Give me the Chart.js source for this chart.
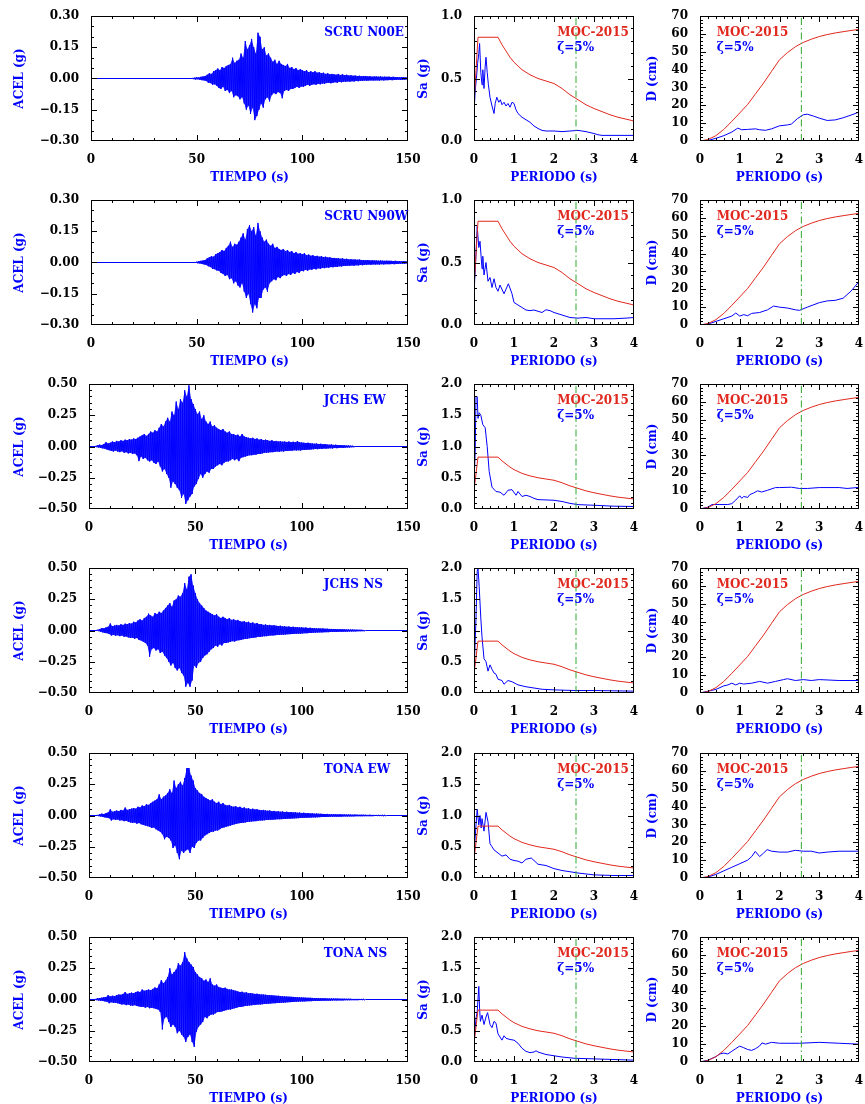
<!DOCTYPE html>
<html>
<head>
<meta charset="utf-8">
<script src="https://cdn.jsdelivr.net/npm/chart.js@4/dist/chart.umd.min.js"></script>
<style>
  body { margin: 0; background: #fff; }
  #wrap { position: relative; width: 865px; height: 1104px; background: #fff; }
  #wrap canvas { position: absolute; }
</style>
</head>
<body>
<div id="wrap"></div>
<script>
// Station / component names
const stations = ['SCRU N00E', 'SCRU N90W', 'JCHS EW', 'JCHS NS', 'TONA EW', 'TONA NS'];

// Accelerograms: start time (s), then positive and negative peaks for each second (g)
const acc1Start = 48;
const acc1Up = [0.003,0.004,0.006,0.005,0.008,0.010,0.012, 0.018,0.025,0.022,0.035,0.04, 0.048,0.04,0.055,0.05,0.06,
  0.065,0.07,0.1,0.075,0.085, 0.09,0.12,0.1,0.18,0.14, 0.16,0.19,0.15,0.12,0.22, 0.2,0.14,0.15,0.11,0.12,
  0.1,0.08,0.09,0.07,0.085, 0.07,0.065,0.06,0.07,0.05, 0.055,0.045,0.05,0.04,0.045, 0.04,0.035,0.04,0.03,0.035,
  0.03,0.035,0.028,0.03,0.025, 0.028,0.022,0.025,0.02,0.022, 0.02,0.018,0.022,0.017,0.02, 0.016,0.018,0.014,0.016,0.013,
  0.014,0.012,0.013,0.011,0.012, 0.012,0.01,0.011,0.009,0.01, 0.01,0.009,0.01,0.008,0.009, 0.008,0.009,0.007,0.008,0.007,
  0.007,0.006,0.007,0.006,0.006];
const acc1Dn = [0.003,0.005,0.004,0.006,0.008,0.009,0.012, 0.02,0.022,0.03,0.028,0.035, 0.045,0.05,0.04,0.06,0.055,
  0.07,0.06,0.09,0.08,0.085, 0.1,0.09,0.12,0.15,0.13, 0.17,0.14,0.2,0.18,0.15, 0.12,0.14,0.1,0.09,0.11,
  0.08,0.07,0.075,0.065,0.07, 0.095,0.06,0.055,0.06,0.05, 0.05,0.045,0.04,0.045,0.038, 0.04,0.035,0.03,0.035,0.03,
  0.028,0.03,0.025,0.028,0.024, 0.025,0.022,0.02,0.023,0.02, 0.018,0.02,0.016,0.018,0.015, 0.016,0.014,0.015,0.013,0.014,
  0.012,0.013,0.011,0.012,0.01, 0.011,0.01,0.009,0.01,0.009, 0.009,0.01,0.008,0.009,0.008, 0.008,0.007,0.008,0.007,0.007,
  0.006,0.007,0.006,0.006,0.005];

const acc2Start = 50;
const acc2Up = [0.004,0.006,0.008,0.01,0.012, 0.02,0.025,0.03,0.028,0.04, 0.045,0.05,0.06,0.055,0.07, 0.08,0.1,0.075,0.09,0.085,
  0.1,0.12,0.14,0.11,0.16, 0.18,0.15,0.17,0.13,0.19, 0.15,0.12,0.1,0.11,0.09, 0.08,0.09,0.07,0.075,0.065,
  0.06,0.065,0.055,0.06,0.05, 0.055,0.045,0.05,0.042,0.045, 0.04,0.045,0.035,0.038,0.032, 0.035,0.03,0.032,0.028,0.03,
  0.026,0.028,0.024,0.025,0.022, 0.022,0.02,0.021,0.018,0.02, 0.017,0.018,0.015,0.016,0.014, 0.015,0.013,0.014,0.012,0.012,
  0.011,0.012,0.01,0.011,0.01, 0.01,0.009,0.01,0.009,0.008, 0.009,0.008,0.008,0.007,0.008, 0.007,0.007,0.006,0.007,0.006];
const acc2Dn = [0.004,0.005,0.007,0.009,0.012, 0.018,0.022,0.03,0.032,0.038, 0.04,0.05,0.055,0.065,0.06, 0.08,0.075,0.1,0.09,0.11,
  0.12,0.1,0.14,0.17,0.15, 0.2,0.24,0.2,0.22,0.17, 0.17,0.13,0.12,0.14,0.1, 0.09,0.08,0.085,0.07,0.075,
  0.065,0.06,0.065,0.055,0.06, 0.05,0.055,0.045,0.05,0.04, 0.042,0.035,0.04,0.033,0.035, 0.03,0.033,0.028,0.03,0.026,
  0.027,0.024,0.025,0.022,0.023, 0.02,0.021,0.018,0.019,0.017, 0.017,0.015,0.016,0.014,0.015, 0.013,0.014,0.012,0.013,0.011,
  0.011,0.01,0.011,0.009,0.01, 0.009,0.01,0.008,0.009,0.008, 0.008,0.008,0.007,0.008,0.007, 0.007,0.006,0.006,0.006,0.005];

const acc3Start = 3;
const acc3Up = [0.005,0.01,0.015,0.012,0.02, 0.035,0.025,0.03,0.04,0.035, 0.045,0.04,0.05,0.045,0.055, 0.05,0.06,0.055,0.065,0.06,
  0.07,0.08,0.09,0.1,0.085, 0.1,0.12,0.11,0.13,0.12, 0.15,0.18,0.16,0.2,0.23, 0.2,0.28,0.25,0.36,0.3,
  0.38,0.35,0.45,0.4,0.49, 0.38,0.34,0.3,0.26,0.28, 0.22,0.25,0.2,0.18,0.2, 0.16,0.17,0.15,0.14,0.13,
  0.14,0.12,0.11,0.12,0.1, 0.1,0.09,0.095,0.08,0.1, 0.08,0.075,0.07,0.065,0.07, 0.06,0.065,0.055,0.06,0.05,
  0.055,0.05,0.045,0.05,0.042, 0.045,0.04,0.042,0.038,0.04, 0.036,0.04,0.035,0.038,0.034, 0.043,0.035,0.032,0.03,0.028,
  0.03,0.026,0.025,0.022,0.024, 0.02,0.022,0.018,0.02,0.016, 0.015,0.017,0.013,0.014,0.012, 0.012,0.01,0.011,0.008,0.009,
  0.007,0.006];
const acc3Dn = [0.005,0.008,0.012,0.015,0.018, 0.025,0.03,0.035,0.04,0.032, 0.04,0.045,0.038,0.05,0.045, 0.055,0.05,0.06,0.055,0.07,
  0.117,0.08,0.1,0.09,0.11, 0.12,0.11,0.13,0.14,0.12, 0.16,0.2,0.18,0.22,0.25, 0.33,0.28,0.3,0.33,0.35,
  0.41,0.38,0.46,0.43,0.4, 0.38,0.32,0.3,0.26,0.22, 0.25,0.22,0.2,0.21,0.18, 0.18,0.16,0.15,0.14,0.15,
  0.13,0.12,0.12,0.11,0.1, 0.11,0.1,0.117,0.09,0.085, 0.08,0.075,0.07,0.07,0.065, 0.065,0.06,0.06,0.055,0.05,
  0.05,0.048,0.045,0.045,0.042, 0.04,0.042,0.038,0.04,0.035, 0.035,0.033,0.034,0.03,0.032, 0.03,0.032,0.028,0.027,0.025,
  0.025,0.023,0.022,0.02,0.021, 0.018,0.02,0.016,0.017,0.015, 0.014,0.015,0.012,0.013,0.011, 0.01,0.011,0.009,0.008,0.008,
  0.006,0.005];

const acc4Start = 4;
const acc4Up = [0.006,0.012,0.02,0.018,0.025, 0.03,0.056,0.035,0.04,0.045, 0.04,0.05,0.045,0.055,0.05, 0.06,0.055,0.07,0.065,0.08,
  0.09,0.08,0.1,0.11,0.135, 0.12,0.11,0.14,0.13,0.15, 0.14,0.16,0.18,0.2,0.22, 0.19,0.24,0.25,0.28,0.27,
  0.3,0.38,0.33,0.43,0.45, 0.36,0.3,0.25,0.22,0.2, 0.18,0.16,0.15,0.14,0.13, 0.12,0.13,0.11,0.1,0.11,
  0.1,0.09,0.1,0.085,0.09, 0.08,0.085,0.075,0.07,0.075, 0.065,0.07,0.06,0.065,0.055, 0.06,0.05,0.052,0.045,0.048,
  0.042,0.045,0.04,0.042,0.038, 0.036,0.038,0.033,0.035,0.03, 0.032,0.028,0.03,0.026,0.028, 0.025,0.026,0.022,0.024,0.02,
  0.022,0.019,0.02,0.017,0.018, 0.016,0.017,0.014,0.015,0.013, 0.013,0.012,0.012,0.011,0.011, 0.01,0.01,0.009,0.009,0.008,
  0.008,0.007,0.007,0.006,0.006, 0.005];
const acc4Dn = [0.005,0.01,0.015,0.02,0.022, 0.028,0.04,0.035,0.042,0.038, 0.045,0.04,0.05,0.048,0.055, 0.06,0.058,0.065,0.06,0.075,
  0.08,0.09,0.1,0.12,0.21, 0.15,0.14,0.16,0.15,0.18, 0.17,0.2,0.22,0.25,0.28, 0.26,0.3,0.32,0.3,0.34,
  0.36,0.45,0.42,0.45,0.4, 0.28,0.3,0.26,0.25,0.22, 0.2,0.19,0.17,0.15,0.14, 0.12,0.13,0.11,0.12,0.1,
  0.1,0.095,0.09,0.085,0.088, 0.08,0.078,0.075,0.07,0.068, 0.065,0.062,0.06,0.058,0.055, 0.05,0.052,0.048,0.046,0.045,
  0.042,0.04,0.04,0.038,0.036, 0.035,0.034,0.033,0.032,0.03, 0.029,0.028,0.027,0.026,0.025, 0.025,0.023,0.022,0.022,0.02,
  0.019,0.018,0.017,0.016,0.015, 0.015,0.014,0.013,0.013,0.012, 0.012,0.011,0.011,0.01,0.01, 0.01,0.009,0.009,0.008,0.008,
  0.007,0.007,0.006,0.006,0.005, 0.005];

const acc5Start = 4;
const acc5Up = [0.005,0.01,0.015,0.012,0.02, 0.025,0.05,0.03,0.035,0.04, 0.035,0.045,0.04,0.064,0.045, 0.05,0.055,0.06,0.055,0.07,
  0.065,0.08,0.075,0.09,0.085, 0.1,0.11,0.12,0.13,0.17, 0.13,0.15,0.16,0.18,0.21, 0.18,0.28,0.22,0.25,0.27,
  0.24,0.3,0.38,0.38,0.32, 0.28,0.22,0.2,0.18,0.17, 0.15,0.14,0.13,0.12,0.13, 0.11,0.1,0.11,0.09,0.1,
  0.085,0.08,0.085,0.075,0.07, 0.075,0.065,0.07,0.06,0.065, 0.055,0.06,0.05,0.055,0.048, 0.05,0.045,0.042,0.045,0.04,
  0.038,0.04,0.035,0.037,0.032, 0.034,0.03,0.032,0.028,0.03, 0.026,0.028,0.025,0.026,0.022, 0.024,0.02,0.022,0.019,0.02,
  0.017,0.018,0.015,0.016,0.014, 0.014,0.013,0.012,0.013,0.011, 0.011,0.01,0.011,0.009,0.01, 0.009,0.009,0.008,0.008,0.008,
  0.007,0.008,0.007,0.006,0.007, 0.006,0.006,0.005,0.006,0.005, 0.005,0.005,0.004,0.005,0.004, 0.004];
const acc5Dn = [0.005,0.008,0.012,0.015,0.018, 0.022,0.04,0.03,0.035,0.032, 0.04,0.038,0.045,0.042,0.05, 0.055,0.06,0.055,0.065,0.06,
  0.07,0.075,0.08,0.085,0.09, 0.1,0.095,0.11,0.12,0.13, 0.15,0.19,0.17,0.18,0.2, 0.26,0.24,0.3,0.35,0.28,
  0.3,0.28,0.27,0.3,0.25, 0.26,0.22,0.2,0.2,0.18, 0.16,0.15,0.14,0.13,0.13, 0.12,0.12,0.11,0.1,0.095,
  0.09,0.085,0.08,0.075,0.07, 0.065,0.062,0.06,0.058,0.055, 0.052,0.05,0.048,0.046,0.045, 0.042,0.04,0.04,0.038,0.036,
  0.035,0.034,0.033,0.032,0.03, 0.03,0.029,0.028,0.027,0.025, 0.025,0.024,0.023,0.022,0.021, 0.02,0.019,0.018,0.018,0.017,
  0.016,0.015,0.015,0.014,0.013, 0.012,0.012,0.011,0.011,0.01, 0.01,0.01,0.009,0.009,0.009, 0.008,0.008,0.008,0.007,0.007,
  0.007,0.006,0.006,0.006,0.006, 0.005,0.005,0.005,0.005,0.005, 0.004,0.004,0.004,0.004,0.004, 0.003];

const acc6Start = 3;
const acc6Up = [0.005,0.01,0.012,0.015,0.018, 0.02,0.035,0.025,0.03,0.028, 0.035,0.04,0.038,0.045,0.06, 0.045,0.05,0.055,0.05,0.06,
  0.065,0.06,0.08,0.07,0.075, 0.08,0.075,0.085,0.097,0.09, 0.12,0.156,0.13,0.15,0.18, 0.25,0.2,0.22,0.24,0.29,
  0.27,0.3,0.38,0.33,0.3, 0.28,0.26,0.22,0.2,0.18, 0.17,0.15,0.16,0.14,0.17, 0.12,0.11,0.12,0.1,0.095,
  0.09,0.095,0.085,0.08,0.08, 0.075,0.07,0.065,0.06,0.062, 0.055,0.058,0.05,0.052,0.048, 0.045,0.046,0.042,0.04,0.04,
  0.038,0.036,0.035,0.034,0.032, 0.03,0.03,0.028,0.026,0.025, 0.024,0.023,0.022,0.021,0.02, 0.019,0.018,0.017,0.016,0.015,
  0.014,0.014,0.013,0.012,0.012, 0.011,0.011,0.01,0.01,0.009, 0.009,0.009,0.008,0.008,0.008, 0.007,0.007,0.007,0.006,0.006,
  0.006,0.005,0.005,0.005,0.005, 0.004,0.004];
const acc6Dn = [0.005,0.008,0.01,0.012,0.015, 0.018,0.03,0.022,0.028,0.025, 0.03,0.035,0.04,0.038,0.045, 0.04,0.048,0.05,0.045,0.052,
  0.055,0.06,0.058,0.065,0.06, 0.07,0.065,0.07,0.075,0.08, 0.1,0.24,0.15,0.14,0.18, 0.22,0.2,0.22,0.27,0.25,
  0.28,0.3,0.34,0.3,0.28, 0.34,0.38,0.26,0.22,0.2, 0.18,0.14,0.15,0.13,0.12, 0.12,0.11,0.1,0.1,0.095,
  0.09,0.085,0.08,0.08,0.075, 0.07,0.065,0.06,0.06,0.055, 0.052,0.05,0.048,0.046,0.044, 0.042,0.04,0.04,0.038,0.036,
  0.035,0.033,0.032,0.03,0.03, 0.028,0.027,0.026,0.025,0.024, 0.022,0.021,0.02,0.019,0.018, 0.017,0.016,0.016,0.015,0.014,
  0.013,0.013,0.012,0.012,0.011, 0.011,0.01,0.01,0.009,0.009, 0.009,0.008,0.008,0.008,0.007, 0.007,0.007,0.006,0.006,0.006,
  0.005,0.005,0.005,0.005,0.004, 0.004,0.004];

// Pseudo-acceleration spectra [period s, Sa g]
const sa1 = [[0,0.22],[0.03,0.4],[0.06,0.5],[0.09,0.62],[0.12,0.7],[0.14,0.78],[0.17,0.55],[0.2,0.45],[0.22,0.57],[0.25,0.42],
  [0.28,0.6],[0.3,0.67],[0.33,0.55],[0.36,0.45],[0.4,0.35],[0.45,0.28],[0.5,0.22],[0.53,0.3],[0.57,0.35],[0.62,0.31],
  [0.66,0.33],[0.7,0.29],[0.75,0.31],[0.8,0.28],[0.85,0.3],[0.9,0.27],[0.95,0.31],[1.0,0.3],[1.05,0.25],[1.1,0.22],
  [1.2,0.19],[1.3,0.17],[1.4,0.15],[1.5,0.12],[1.6,0.1],[1.7,0.085],[1.8,0.08],[2.0,0.08],[2.2,0.075],[2.4,0.08],
  [2.6,0.085],[2.8,0.075],[3.0,0.06],[3.1,0.05],[3.2,0.045],[3.5,0.045],[4.0,0.045]];
const sa2 = [[0,0.25],[0.04,0.5],[0.08,0.79],[0.12,0.62],[0.15,0.67],[0.2,0.45],[0.22,0.55],[0.25,0.4],[0.3,0.5],[0.35,0.35],
  [0.4,0.38],[0.45,0.3],[0.5,0.37],[0.55,0.3],[0.6,0.27],[0.65,0.32],[0.75,0.25],[0.86,0.33],[0.95,0.25],[1.0,0.18],
  [1.1,0.16],[1.2,0.14],[1.3,0.12],[1.4,0.115],[1.5,0.12],[1.6,0.11],[1.7,0.1],[1.8,0.122],[1.9,0.115],[2.0,0.1],
  [2.2,0.08],[2.4,0.06],[2.6,0.055],[2.8,0.06],[3.0,0.05],[3.5,0.05],[3.8,0.055],[4.0,0.06]];
const sa3 = [[0,0.45],[0.03,0.9],[0.05,1.8],[0.08,1.8],[0.1,1.45],[0.13,1.54],[0.17,1.5],[0.22,1.35],[0.28,1.3],[0.33,1.0],
  [0.38,0.6],[0.45,0.35],[0.55,0.28],[0.65,0.27],[0.75,0.22],[0.85,0.3],[0.95,0.31],[1.05,0.22],[1.1,0.28],[1.2,0.2],
  [1.3,0.22],[1.4,0.2],[1.5,0.17],[1.6,0.15],[2.0,0.14],[2.2,0.12],[2.4,0.09],[2.6,0.07],[3.0,0.06],[3.5,0.045],[4.0,0.04]];
const sa4 = [[0,0.3],[0.05,1.2],[0.08,1.95],[0.1,2.0],[0.13,1.7],[0.17,1.2],[0.2,0.9],[0.25,0.55],[0.3,0.5],[0.35,0.35],
  [0.4,0.45],[0.45,0.38],[0.5,0.32],[0.55,0.3],[0.6,0.22],[0.7,0.2],[0.75,0.14],[0.85,0.2],[0.95,0.18],[1.1,0.13],
  [1.3,0.1],[1.5,0.08],[1.7,0.06],[2.0,0.05],[2.5,0.04],[3.0,0.04],[4.0,0.03]];
const sa5 = [[0,0.36],[0.05,0.85],[0.08,1.1],[0.12,0.85],[0.15,1.0],[0.18,0.8],[0.2,0.95],[0.25,0.75],[0.3,1.05],[0.35,0.9],
  [0.4,0.55],[0.45,0.5],[0.5,0.45],[0.6,0.4],[0.7,0.35],[0.8,0.37],[0.9,0.3],[1.0,0.28],[1.1,0.27],[1.2,0.24],
  [1.3,0.3],[1.43,0.32],[1.5,0.28],[1.6,0.22],[1.8,0.2],[2.0,0.15],[2.2,0.12],[2.4,0.1],[2.6,0.08],[3.0,0.05],[3.5,0.04],[4.0,0.04]];
const sa6 = [[0,0.3],[0.05,0.7],[0.08,0.8],[0.12,1.21],[0.14,0.85],[0.16,0.65],[0.2,0.75],[0.25,0.6],[0.3,0.72],[0.34,0.79],
  [0.4,0.6],[0.45,0.55],[0.5,0.65],[0.55,0.62],[0.6,0.45],[0.65,0.4],[0.7,0.35],[0.75,0.42],[0.8,0.38],[0.9,0.36],
  [1.0,0.35],[1.1,0.3],[1.2,0.22],[1.3,0.17],[1.4,0.15],[1.5,0.16],[1.55,0.18],[1.6,0.16],[1.8,0.12],[2.0,0.1],
  [2.2,0.08],[2.5,0.06],[3.0,0.05],[3.5,0.04],[4.0,0.03]];

// Displacement spectra [period s, D cm]
const d1 = [[0,0],[0.2,0.3],[0.4,1.5],[0.6,3],[0.8,5],[0.95,7.2],[1.05,6.3],[1.2,6.5],[1.4,6.8],[1.5,6.3],[1.65,6],[1.8,6.8],
  [2.0,8.5],[2.2,9],[2.3,9.5],[2.45,12.5],[2.6,14.7],[2.7,15],[2.85,14],[3.0,12.8],[3.2,11.5],[3.4,11.8],[3.6,13],[3.8,14.5],[4.0,16.2]];
const d2 = [[0,0],[0.2,0.5],[0.4,2],[0.6,3.5],[0.8,5],[0.9,6.7],[1.0,5],[1.1,5.8],[1.2,5.2],[1.3,6.5],[1.5,7],[1.7,8.5],
  [1.85,10.6],[2.0,10],[2.2,9.5],[2.4,8.5],[2.5,8.2],[2.7,10],[3.0,12.5],[3.2,13.5],[3.4,13.8],[3.6,15],[3.8,19],[4.0,24.3]];
const d3 = [[0,0],[0.2,1],[0.3,2.5],[0.5,2.5],[0.7,2.5],[0.8,3],[0.9,5],[1.0,7.4],[1.05,6],[1.1,7],[1.2,6.5],[1.25,8],[1.35,9],
  [1.45,10.2],[1.55,9.5],[1.7,10.5],[1.9,12],[2.0,12],[2.3,12.2],[2.5,11.5],[2.7,11.5],[3.0,12],[3.5,12],[3.7,11.5],[4.0,12.1]];
const d4 = [[0,0],[0.2,1],[0.4,2],[0.6,4],[0.7,4.5],[0.8,5.5],[0.9,4.5],[1.0,5.5],[1.1,5],[1.3,5.5],[1.5,6.5],[1.7,5.5],
  [1.9,6.5],[2.1,7.5],[2.2,8],[2.4,7],[2.6,7.5],[2.8,7],[3.0,7.5],[3.5,7],[4.0,7]];
const d5 = [[0,0],[0.2,0.5],[0.4,2],[0.6,4],[0.8,6],[1.0,8],[1.2,10],[1.3,12],[1.39,14.9],[1.5,12],[1.6,14],[1.69,15.9],
  [1.8,15],[2.0,14.5],[2.2,14.5],[2.4,15.5],[2.6,15],[2.8,15],[3.0,14],[3.2,14.5],[3.5,15],[4.0,15]];
const d6 = [[0,0],[0.2,1],[0.4,3],[0.5,4.5],[0.6,5],[0.7,4.5],[0.8,6],[0.9,7.5],[1.0,8.9],[1.1,8],[1.2,7],[1.3,6.5],[1.4,7.5],
  [1.5,9],[1.56,10.7],[1.65,10],[1.8,11],[2.0,10.5],[2.5,10.5],[3.0,11],[3.5,10.5],[4.0,10]];

// MOC-2015 design spectrum
const mocSa = [[0,0.3],[0.1,0.83],[0.6,0.83],[0.7,0.77],[0.8,0.72],[0.9,0.67],[1.0,0.63],[1.2,0.57],[1.4,0.53],[1.6,0.5],
  [1.8,0.48],[2.0,0.46],[2.2,0.42],[2.4,0.37],[2.6,0.33],[2.8,0.29],[3.0,0.26],[3.2,0.235],[3.4,0.21],[3.6,0.19],[3.8,0.175],[4.0,0.16]];
const mocD = [[0,0],[0.2,0.8],[0.4,3],[0.6,6.5],[0.8,11],[1.0,15.7],[1.2,20.5],[1.4,26.5],[1.6,32.5],[1.8,39],[2.0,45.5],
  [2.2,49.5],[2.4,52.8],[2.6,55.2],[2.8,57],[3.0,58.5],[3.2,59.6],[3.4,60.5],[3.6,61.2],[3.8,61.9],[4.0,62.5]];

// Site period (green dash-dot line)
const sitePeriod = 2.55;

// Axis limits per row
const accLimits = [0.3, 0.3, 0.5, 0.5, 0.5, 0.5];
const accSteps = [0.15, 0.15, 0.25, 0.25, 0.25, 0.25];
const saLimits = [1, 1, 2, 2, 2, 2];

const BLUE = '#0000ff';
const RED = '#e0281e';
const GREEN = '#2ea82e';
const FONT = { family: 'DejaVu Serif', size: 12, weight: 'bold' };
const wrap = document.getElementById('wrap');

// frame with inward ticks on all four sides, plus panel texts
const framePlugin = {
  id: 'frame',
  afterDraw(chart, args, o) {
    const { ctx, chartArea: a, scales: { x, y } } = chart;
    ctx.save();
    ctx.strokeStyle = '#000';
    ctx.lineWidth = 1;
    ctx.strokeRect(a.left + 0.5, a.top + 0.5, a.right - a.left - 1, a.bottom - a.top - 1);
    const marks = (scale, minor, major, cb) => {
      const n = Math.round((scale.max - scale.min) / minor);
      for (let i = 1; i < n; i++) {
        const v = scale.min + i * minor;
        const isMajor = Math.abs(v / major - Math.round(v / major)) < 1e-6;
        cb(Math.round(scale.getPixelForValue(v)) + 0.5, isMajor ? 6 : 3);
      }
    };
    ctx.beginPath();
    marks(x, o.xMinor, o.xMajor, (p, len) => {
      ctx.moveTo(p, a.bottom); ctx.lineTo(p, a.bottom - len);
      ctx.moveTo(p, a.top); ctx.lineTo(p, a.top + len);
    });
    marks(y, o.yMinor, o.yMajor, (p, len) => {
      ctx.moveTo(a.left, p); ctx.lineTo(a.left + len, p);
      ctx.moveTo(a.right, p); ctx.lineTo(a.right - len, p);
    });
    ctx.stroke();
    ctx.font = 'bold 12px "DejaVu Serif"';
    ctx.textBaseline = 'middle';
    ctx.textAlign = 'left';
    (o.texts || []).forEach(t => {
      ctx.fillStyle = t.color;
      ctx.fillText(t.text, x.getPixelForValue(t.x), a.top + t.dy);
    });
    ctx.restore();
  }
};

function addPanel(p) {
  const c = document.createElement('canvas');
  c.width = p.w; c.height = p.h;
  c.style.left = p.left + 'px';
  c.style.top = p.top + 'px';
  wrap.appendChild(c);
  new Chart(c, {
    type: 'line',
    data: { datasets: p.datasets },
    options: {
      responsive: false,
      animation: false,
      devicePixelRatio: 1,
      parsing: false,
      layout: { padding: { left: 0, right: p.padR, top: 10, bottom: 0 } },
      elements: { point: { radius: 0 }, line: { borderWidth: 1, tension: 0 } },
      plugins: {
        legend: { display: false },
        tooltip: { enabled: false },
        frame: p.frame
      },
      scales: {
        x: {
          type: 'linear', min: p.xMin, max: p.xMax,
          grid: { display: false, drawTicks: false },
          border: { display: false },
          ticks: { stepSize: p.xStep, color: '#000', font: FONT, padding: 12, maxRotation: 0, autoSkip: false,
            callback: v => String(Math.round(v)) },
          title: { display: true, text: p.xTitle, color: BLUE, font: FONT, padding: { top: 0, bottom: 0 } },
          afterFit: s => { s.height = 44; s.paddingLeft = 0; s.paddingRight = 0; }
        },
        y: {
          type: 'linear', min: p.yMin, max: p.yMax,
          grid: { display: false, drawTicks: false },
          border: { display: false },
          ticks: { stepSize: p.yStep, color: '#000', font: FONT, padding: 12, autoSkip: false, callback: p.yFmt },
          title: { display: true, text: p.yTitle, color: BLUE, font: FONT, padding: { top: p.yTitlePad, bottom: 0 } },
          afterFit: s => { s.width = p.yW; s.paddingTop = 0; s.paddingBottom = 0; }
        }
      }
    },
    plugins: [framePlugin]
  });
}

const pts = arr => arr.map(([x, y]) => ({ x, y }));

// zigzag trace: positive peak at each second, negative peak half a second later
function accelPoints(t0, up, dn) {
  const out = [{ x: 0, y: 0 }, { x: t0, y: 0 }];
  up.forEach((u, i) => {
    out.push({ x: t0 + i, y: u });
    out.push({ x: t0 + i + 0.5, y: -dn[i] });
  });
  out.push({ x: t0 + up.length, y: 0 }, { x: 150, y: 0 });
  return out;
}

// one side of the envelope (used for the solid band)
function envelope(t0, vals, shift, sign) {
  const out = [{ x: 0, y: 0 }, { x: t0, y: 0 }];
  vals.forEach((v, i) => out.push({ x: t0 + i + shift, y: sign * v }));
  out.push({ x: t0 + vals.length, y: 0 }, { x: 150, y: 0 });
  return out;
}

const accs = [
  [acc1Start, acc1Up, acc1Dn], [acc2Start, acc2Up, acc2Dn], [acc3Start, acc3Up, acc3Dn],
  [acc4Start, acc4Up, acc4Dn], [acc5Start, acc5Up, acc5Dn], [acc6Start, acc6Up, acc6Dn]
];
const saList = [sa1, sa2, sa3, sa4, sa5, sa6];
const dList = [d1, d2, d3, d4, d5, d6];

const fmtAcc = v => { const s = (Math.abs(v) < 1e-9 ? 0 : v).toFixed(2); return s.replace('-', '\u2212'); };

stations.forEach((name, r) => {
  const plotTop = Math.round(15.7 + 184.2 * r);
  const top = plotTop - 10;
  const h = 10 + 125 + 44;
  const accW = r < 2 ? 91 : 89;
  const lim = accLimits[r];
  const [t0, up, dn] = accs[r];

  addPanel({
    left: 0, top, w: 422, h, padR: 14, yW: accW, yTitlePad: 13,
    xMin: 0, xMax: 150, xStep: 50, yMin: -lim, yMax: lim, yStep: accSteps[r],
    xTitle: 'TIEMPO (s)', yTitle: 'ACEL (g)', yFmt: fmtAcc,
    datasets: [
      { data: accelPoints(t0, up, dn), borderColor: BLUE, borderWidth: 1 },
      { data: envelope(t0, up, 0, 1), borderWidth: 0, borderColor: 'rgba(0,0,0,0)', fill: '+1', backgroundColor: 'rgba(0,0,255,0.85)' },
      { data: envelope(t0, dn, 0.5, -1), borderWidth: 0, borderColor: 'rgba(0,0,0,0)' }
    ],
    frame: { xMinor: 10, xMajor: 50, yMinor: 0.05, yMajor: accSteps[r],
      texts: [{ text: name, x: 110.4, dy: 17, color: BLUE }] }
  });

  const sMax = saLimits[r];
  addPanel({
    left: 414, top, w: 232, h, padR: 12, yW: 60, yTitlePad: 3,
    xMin: 0, xMax: 4, xStep: 1, yMin: 0, yMax: sMax, yStep: 0.5,
    xTitle: 'PERIODO (s)', yTitle: 'Sa (g)', yFmt: v => v.toFixed(1),
    datasets: [
      { data: [{ x: sitePeriod, y: 0 }, { x: sitePeriod, y: sMax }], borderColor: GREEN, borderWidth: 1, borderDash: [7, 3, 1.5, 3] },
      { data: pts(mocSa), borderColor: RED, borderWidth: 1 },
      { data: pts(saList[r]), borderColor: BLUE, borderWidth: 1 }
    ],
    frame: { xMinor: 0.2, xMajor: 1, yMinor: 0.1, yMajor: 0.5,
      texts: [{ text: 'MOC-2015', x: 2.08, dy: 17, color: RED }, { text: '\u03B6=5%', x: 2.08, dy: 32, color: BLUE }] }
  });

  addPanel({
    left: 640, top, w: 225, h, padR: 6, yW: 60, yTitlePad: 6,
    xMin: 0, xMax: 4, xStep: 1, yMin: 0, yMax: 70, yStep: 10,
    xTitle: 'PERIODO (s)', yTitle: 'D (cm)', yFmt: v => String(Math.round(v)),
    datasets: [
      { data: [{ x: sitePeriod, y: 0 }, { x: sitePeriod, y: 70 }], borderColor: GREEN, borderWidth: 1, borderDash: [7, 3, 1.5, 3] },
      { data: pts(mocD), borderColor: RED, borderWidth: 1 },
      { data: pts(dList[r]), borderColor: BLUE, borderWidth: 1 }
    ],
    frame: { xMinor: 0.2, xMajor: 1, yMinor: 2, yMajor: 10,
      texts: [{ text: 'MOC-2015', x: 0.42, dy: 17, color: RED }, { text: '\u03B6=5%', x: 0.42, dy: 32, color: BLUE }] }
  });
});
</script>
</body>
</html>
